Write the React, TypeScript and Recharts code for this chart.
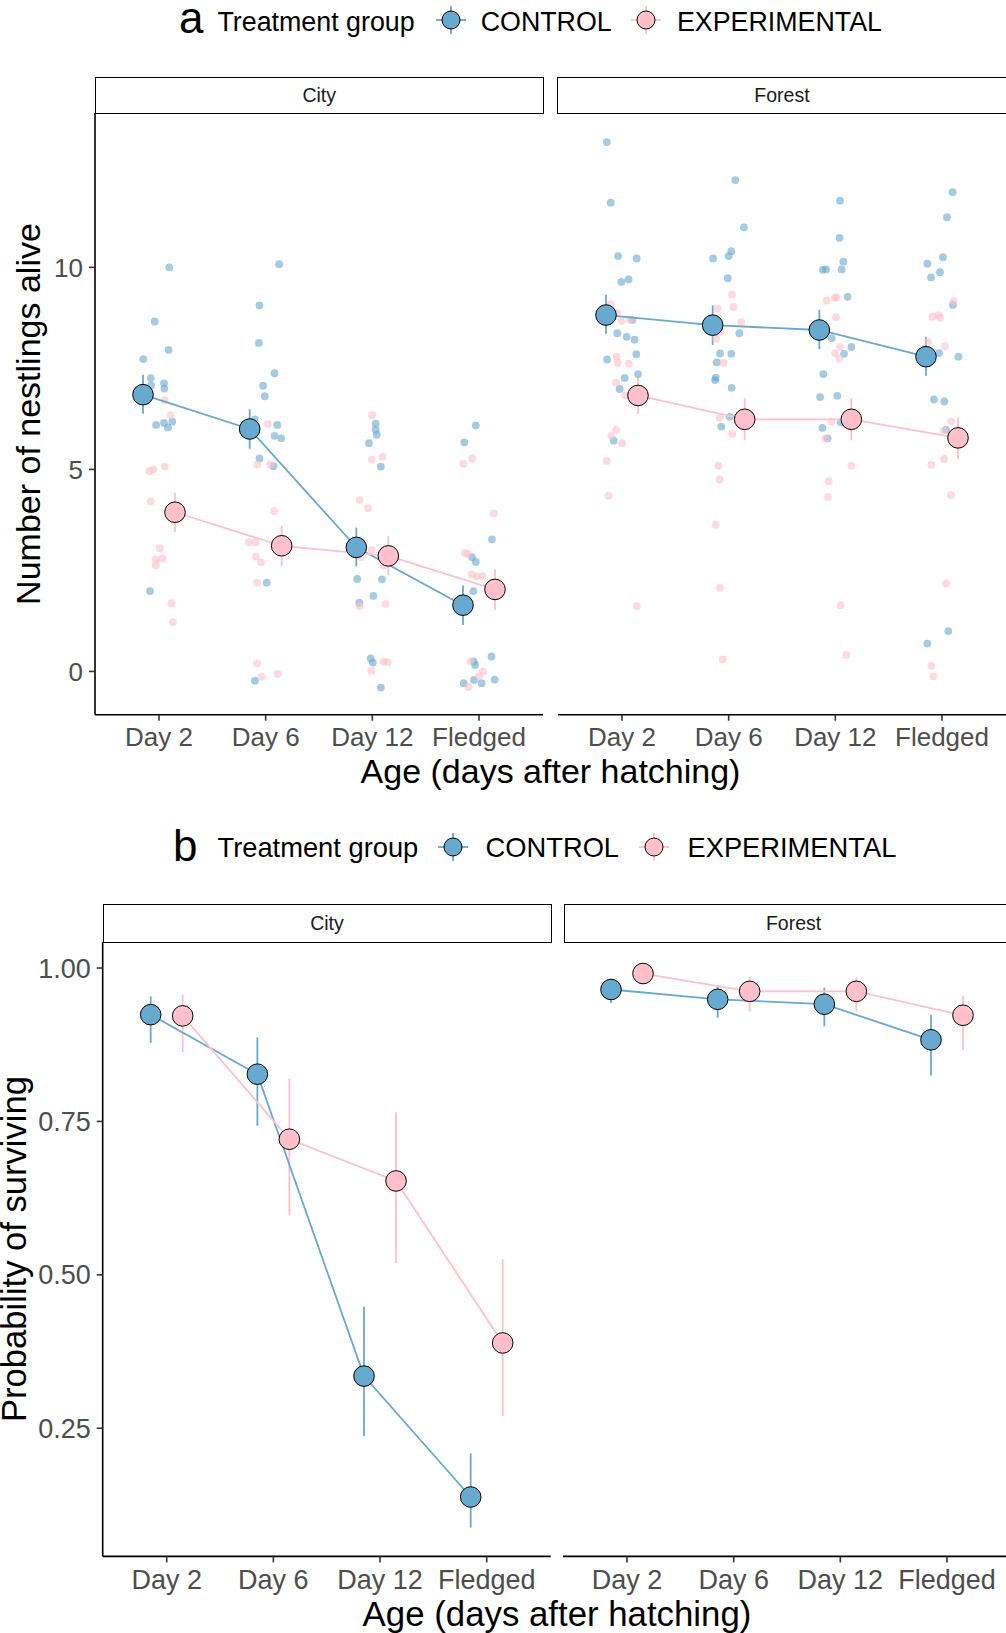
import React from 'react';
import { ScatterChart, Scatter, XAxis, YAxis, ErrorBar } from 'recharts';

const FONT = '"Liberation Sans", Arial, Helvetica, sans-serif';

// ---------- categories / groups ----------
const AGES = ['Day 2', 'Day 6', 'Day 12', 'Fledged'];
const AGE_POS = [1, 2, 3, 4];
const GROUPS = ['CONTROL', 'EXPERIMENTAL'];
const HABITATS = ['City', 'Forest'];
const BLUE = '#67a9cf';
const PINK = '#ffc0cb';

// ---------- panel a: number of nestlings alive (mean, lower, upper) ----------
const A_CITY_CONTROL_MEAN = [6.85, 6.0, 3.07, 1.64];
const A_CITY_CONTROL_LOW = [6.38, 5.51, 2.6, 1.15];
const A_CITY_CONTROL_HIGH = [7.34, 6.49, 3.56, 2.13];
const A_CITY_EXP_MEAN = [3.94, 3.11, 2.86, 2.03];
const A_CITY_EXP_LOW = [3.45, 2.6, 2.38, 1.52];
const A_CITY_EXP_HIGH = [4.43, 3.6, 3.35, 2.52];
const A_FOREST_CONTROL_MEAN = [8.82, 8.57, 8.45, 7.79];
const A_FOREST_CONTROL_LOW = [8.36, 8.08, 7.97, 7.32];
const A_FOREST_CONTROL_HIGH = [9.32, 9.06, 8.95, 8.28];
const A_FOREST_EXP_MEAN = [6.83, 6.24, 6.24, 5.78];
const A_FOREST_EXP_LOW = [6.37, 5.72, 5.72, 5.25];
const A_FOREST_EXP_HIGH = [7.3, 6.76, 6.76, 6.29];
const A_Y_TICKS = [0, 5, 10];

// raw (jittered) nest counts: [jittered age position, jittered count]
const A_CITY_CONTROL_RAW = [
  [0.853, 7.73], [0.923, 7.26], [0.926, 7.08], [1.047, 7.13], [1.05, 7.0], [0.96, 8.66], [1.097, 10.0],
  [1.09, 7.96], [0.973, 6.1], [1.047, 6.15], [1.084, 6.04], [1.124, 6.18], [0.916, 1.99],
  [1.942, 9.06], [1.936, 8.13], [2.126, 10.08], [2.083, 7.38], [1.976, 7.07], [1.992, 6.81], [1.899, 6.24],
  [2.109, 6.1], [2.083, 5.83], [2.146, 5.77], [1.942, 5.27], [2.073, 5.08], [2.009, 2.2], [1.899, -0.23],
  [3.031, 6.13], [3.031, 5.98], [3.041, 5.86], [2.968, 5.65], [3.08, 5.07], [2.858, 2.29], [3.09, 2.28],
  [3.01, 1.87], [2.878, 1.7], [2.985, 0.32], [3.005, 0.22], [3.08, -0.4],
  [3.97, 6.09], [3.863, 5.67], [4.121, 3.27], [3.934, 2.83], [3.97, 2.71], [3.947, 1.99], [4.117, 0.37],
  [3.95, 0.25], [3.963, 0.16], [3.857, -0.29], [3.953, -0.21], [4.024, -0.29], [4.147, -0.2],
];
const A_CITY_EXP_RAW = [
  [1.053, 6.71], [1.11, 6.34], [0.91, 4.96], [0.947, 5.0], [1.053, 5.07], [0.923, 4.21], [1.007, 3.05],
  [0.967, 2.77], [1.033, 2.8], [0.97, 2.62], [1.117, 1.69], [1.13, 1.22],
  [2.019, 6.13], [1.922, 5.12], [2.042, 5.12], [2.079, 3.97], [1.842, 3.2], [1.905, 3.2], [1.909, 2.84],
  [1.956, 2.7], [1.919, 2.2], [1.919, 0.2], [1.963, -0.13], [2.113, -0.06],
  [2.998, 6.34], [2.995, 5.24], [3.095, 5.31], [2.881, 4.24], [2.961, 4.04], [2.995, 3.01], [2.888, 2.83],
  [3.108, 2.62], [3.125, 1.67], [2.881, 1.62], [3.105, 0.25], [3.145, 0.23], [2.991, 0.02],
  [3.853, 5.14], [3.937, 5.27], [4.14, 3.91], [3.867, 2.93], [3.894, 2.91], [3.934, 2.4], [3.983, 2.36],
  [4.034, 2.36], [3.92, 0.25], [4.037, 0.0], [4.0, -0.12], [3.9, -0.38],
];
const A_FOREST_CONTROL_RAW = [
  [0.857, 13.1], [0.894, 11.6], [0.963, 10.28], [1.137, 10.22], [0.994, 9.64], [1.062, 9.7], [1.097, 8.7],
  [0.956, 8.37], [1.044, 8.28], [1.118, 8.21], [1.134, 7.85], [0.86, 7.72], [1.15, 7.36], [1.025, 7.26],
  [0.978, 6.99], [0.922, 5.71],
  [2.062, 12.16], [2.143, 10.99], [1.854, 10.22], [2.0, 10.28], [2.025, 10.4], [1.991, 9.73], [2.1, 8.37],
  [1.919, 7.87], [2.025, 7.86], [1.888, 7.65], [1.879, 7.27], [1.872, 7.21], [2.028, 7.02], [2.009, 6.3],
  [1.931, 6.06],
  [3.044, 11.65], [3.04, 10.73], [3.075, 10.14], [2.882, 9.94], [2.913, 9.95], [3.059, 9.95], [3.115, 9.27],
  [2.966, 8.25], [3.15, 8.03], [3.081, 7.86], [2.888, 7.36], [2.857, 6.79], [3.019, 6.82], [2.879, 6.03],
  [2.928, 5.77], [3.05, 6.17],
  [4.1, 11.86], [4.047, 11.24], [3.863, 10.09], [4.009, 10.25], [3.897, 9.75], [3.981, 9.88], [4.103, 9.07],
  [3.972, 7.88], [4.153, 7.79], [3.925, 6.73], [4.022, 6.68], [4.037, 5.98], [3.863, 0.69], [4.059, 1.0],
];
const A_FOREST_EXP_RAW = [
  [0.894, 9.09], [0.953, 8.87], [0.994, 8.67], [1.072, 8.7], [0.95, 7.79], [0.96, 7.64], [1.065, 7.62],
  [0.944, 7.15], [1.031, 6.83], [0.947, 5.98], [0.9, 5.83], [1.0, 5.65], [0.857, 5.21], [0.875, 4.35],
  [1.14, 1.62],
  [2.031, 9.33], [2.044, 9.02], [1.897, 8.98], [2.118, 8.65], [1.922, 8.4], [1.882, 8.23], [1.953, 7.64],
  [1.916, 6.27], [2.034, 5.88], [1.903, 5.09], [1.916, 4.75], [1.879, 3.63], [1.919, 2.07], [1.944, 0.3],
  [2.919, 9.18], [2.997, 9.24], [3.009, 9.26], [3.006, 8.77], [3.044, 8.03], [2.997, 7.88], [3.037, 7.75],
  [2.963, 6.19], [2.907, 5.76], [3.15, 5.09], [2.938, 4.71], [2.931, 4.32], [3.05, 1.64], [3.103, 0.41],
  [4.109, 9.17], [3.91, 8.78], [3.969, 8.82], [3.984, 8.75], [3.869, 8.16], [4.028, 8.05], [4.087, 6.19],
  [4.016, 5.96], [3.9, 5.11], [4.019, 5.26], [4.084, 4.36], [4.037, 2.18], [3.9, 0.14], [3.919, -0.12],
];

// ---------- panel b: probability of surviving (mean, lower, upper) ----------
const B_CITY_CONTROL_MEAN = [0.924, 0.827, 0.335, 0.138];
const B_CITY_CONTROL_LOW = [0.878, 0.743, 0.237, 0.088];
const B_CITY_CONTROL_HIGH = [0.954, 0.887, 0.448, 0.209];
const B_CITY_EXP_MEAN = [0.922, 0.721, 0.653, 0.389];
const B_CITY_EXP_LOW = [0.863, 0.597, 0.519, 0.27];
const B_CITY_EXP_HIGH = [0.957, 0.82, 0.765, 0.525];
const B_FOREST_CONTROL_MEAN = [0.965, 0.949, 0.941, 0.883];
const B_FOREST_CONTROL_LOW = [0.943, 0.919, 0.905, 0.825];
const B_FOREST_CONTROL_HIGH = [0.982, 0.972, 0.968, 0.924];
const B_FOREST_EXP_MEAN = [0.991, 0.962, 0.962, 0.923];
const B_FOREST_EXP_LOW = [0.978, 0.929, 0.929, 0.867];
const B_FOREST_EXP_HIGH = [0.998, 0.985, 0.985, 0.955];
const B_Y_TICKS = [0.25, 0.5, 0.75, 1.0];

const DODGE = 0.15;

type MeanPt = { x: number; y: number; err: [number, number] };

function buildMeans(mean: number[], low: number[], high: number[], offset: number): MeanPt[] {
  return AGE_POS.map((p, i) => ({ x: p + offset, y: mean[i], err: [mean[i] - low[i], high[i] - mean[i]] }));
}
function buildRaw(raw: number[][]) {
  return raw.map(([x, y]) => ({ x, y }));
}

type Series = { color: string; means: MeanPt[]; raw?: { x: number; y: number }[] };

type PanelProps = {
  left: number;
  top: number;
  yAxisW: number;
  plotW: number;
  plotH: number;
  yDomain: [number, number];
  yTicks: number[];
  yFmt: (v: number) => string;
  showY: boolean;
  series: Series[];
  fontSize: number;
};

const NoShape = () => <g />;

function Panel(p: PanelProps) {
  const tickStyle = { fontSize: p.fontSize, fill: '#4d4d4d', fontFamily: FONT };
  return (
    <div style={{ position: 'absolute', left: p.left, top: p.top }}>
      <ScatterChart
        width={p.yAxisW + p.plotW}
        height={p.plotH + 50}
        margin={{ top: 0, right: 0, bottom: 0, left: 0 }}
      >
        <XAxis
          type="number"
          dataKey="x"
          domain={[0.4, 4.6]}
          allowDataOverflow
          ticks={AGE_POS}
          interval={0}
          tickFormatter={(v: number) => AGES[Math.round(v) - 1]}
          height={50}
          tick={tickStyle}
          tickSize={6}
          tickMargin={7}
          axisLine={{ stroke: '#000', strokeWidth: 1.6 }}
          tickLine={{ stroke: '#333', strokeWidth: 1.6 }}
        />
        <YAxis
          type="number"
          dataKey="y"
          domain={p.yDomain}
          allowDataOverflow
          ticks={p.yTicks}
          interval={0}
          tickFormatter={p.yFmt}
          width={p.showY ? p.yAxisW : 0}
          hide={!p.showY}
          tick={tickStyle}
          tickSize={6}
          tickMargin={6}
          axisLine={{ stroke: '#000', strokeWidth: 1.6 }}
          tickLine={{ stroke: '#333', strokeWidth: 1.6 }}
        />
        {p.series.map((s, i) =>
          s.raw ? (
            <Scatter
              key={'raw' + i}
              data={s.raw}
              fill={s.color}
              isAnimationActive={false}
              shape={(q: any) => <circle cx={q.cx} cy={q.cy} r={3.9} fill={s.color} fillOpacity={0.6} />}
            />
          ) : null
        )}
        {p.series.map((s, i) => (
          <Scatter
            key={'line' + i}
            data={s.means}
            fill={s.color}
            line={{ stroke: s.color, strokeWidth: 1.8 }}
            lineType="joint"
            isAnimationActive={false}
            shape={NoShape}
          />
        ))}
        {p.series.map((s, i) => (
          <Scatter
            key={'mean' + i}
            data={s.means}
            fill={s.color}
            isAnimationActive={false}
            shape={(q: any) => <circle cx={q.cx} cy={q.cy} r={10.3} fill={s.color} stroke="#000" strokeWidth={1} />}
          >
            <ErrorBar dataKey="err" direction="y" width={0} stroke={s.color} strokeWidth={1.8} />
          </Scatter>
        ))}
      </ScatterChart>
    </div>
  );
}

function Strip({ left, top, width, height, label }: { left: number; top: number; width: number; height: number; label: string }) {
  return (
    <div
      style={{
        position: 'absolute',
        left,
        top,
        width,
        height,
        boxSizing: 'border-box',
        border: '1.7px solid #000',
        background: '#fff',
        display: 'flex',
        alignItems: 'center',
        justifyContent: 'center',
        fontFamily: FONT,
        fontSize: 19.5,
        color: '#1a1a1a',
      }}
    >
      {label}
    </div>
  );
}

// line box of height L keeps the baseline at 0.3465em below the box centre, so a small L is safe
function Txt({ left, cy, size, children, color = '#000' }: { left: number; cy: number; size: number; children: React.ReactNode; color?: string }) {
  const L = Math.round(size * 0.8);
  return (
    <div
      style={{
        position: 'absolute',
        left,
        top: cy - L / 2,
        fontSize: size,
        lineHeight: `${L}px`,
        fontFamily: FONT,
        whiteSpace: 'nowrap',
        color,
      }}
    >
      {children}
    </div>
  );
}

function CenterTxt({ cx, cy, size, rotate, children }: { cx: number; cy: number; size: number; rotate?: boolean; children: React.ReactNode }) {
  const L = Math.round(size * 0.75);
  return (
    <div
      style={{
        position: 'absolute',
        left: cx,
        top: cy,
        fontSize: size,
        lineHeight: `${L}px`,
        fontFamily: FONT,
        whiteSpace: 'nowrap',
        color: '#000',
        transform: `translate(-50%, -50%)${rotate ? ' rotate(-90deg)' : ''}`,
      }}
    >
      {children}
    </div>
  );
}

function Key({ cx, cy, color }: { cx: number; cy: number; color: string }) {
  return (
    <svg style={{ position: 'absolute', left: cx - 16, top: cy - 15 }} width={32} height={30}>
      <line x1={1} y1={15} x2={31} y2={15} stroke={color} strokeWidth={1.8} />
      <line x1={16} y1={1} x2={16} y2={29} stroke={color} strokeWidth={1.8} />
      <circle cx={16} cy={15} r={9} fill={color} stroke="#000" strokeWidth={1} />
    </svg>
  );
}

function Legend({ letter, letterLeft, letterBaseline, cy, keyCy, size, xs }: {
  letter: string; letterLeft: number; letterBaseline: number; cy: number; keyCy: number; size: number; xs: number[];
}) {
  const L = 30;
  const letterTop = letterBaseline - L / 2 - 0.3465 * 44;
  return (
    <>
      <div style={{ position: 'absolute', left: letterLeft, top: letterTop, fontSize: 44, lineHeight: `${L}px`, fontFamily: FONT, color: '#000' }}>
        {letter}
      </div>
      <Txt left={xs[0]} cy={cy} size={size}>Treatment group</Txt>
      <Key cx={xs[1]} cy={keyCy} color={BLUE} />
      <Txt left={xs[2]} cy={cy} size={size}>{GROUPS[0]}</Txt>
      <Key cx={xs[3]} cy={keyCy} color={PINK} />
      <Txt left={xs[4]} cy={cy} size={size}>{GROUPS[1]}</Txt>
    </>
  );
}

export default function App() {
  const fmtA = (v: number) => String(v);
  const fmtB = (v: number) => v.toFixed(2);

  const aCity: Series[] = [
    { color: BLUE, raw: buildRaw(A_CITY_CONTROL_RAW), means: buildMeans(A_CITY_CONTROL_MEAN, A_CITY_CONTROL_LOW, A_CITY_CONTROL_HIGH, -DODGE) },
    { color: PINK, raw: buildRaw(A_CITY_EXP_RAW), means: buildMeans(A_CITY_EXP_MEAN, A_CITY_EXP_LOW, A_CITY_EXP_HIGH, DODGE) },
  ];
  const aForest: Series[] = [
    { color: BLUE, raw: buildRaw(A_FOREST_CONTROL_RAW), means: buildMeans(A_FOREST_CONTROL_MEAN, A_FOREST_CONTROL_LOW, A_FOREST_CONTROL_HIGH, -DODGE) },
    { color: PINK, raw: buildRaw(A_FOREST_EXP_RAW), means: buildMeans(A_FOREST_EXP_MEAN, A_FOREST_EXP_LOW, A_FOREST_EXP_HIGH, DODGE) },
  ];
  const bCity: Series[] = [
    { color: BLUE, means: buildMeans(B_CITY_CONTROL_MEAN, B_CITY_CONTROL_LOW, B_CITY_CONTROL_HIGH, -DODGE) },
    { color: PINK, means: buildMeans(B_CITY_EXP_MEAN, B_CITY_EXP_LOW, B_CITY_EXP_HIGH, DODGE) },
  ];
  const bForest: Series[] = [
    { color: BLUE, means: buildMeans(B_FOREST_CONTROL_MEAN, B_FOREST_CONTROL_LOW, B_FOREST_CONTROL_HIGH, -DODGE) },
    { color: PINK, means: buildMeans(B_FOREST_EXP_MEAN, B_FOREST_EXP_LOW, B_FOREST_EXP_HIGH, DODGE) },
  ];

  const aDomain: [number, number] = [-1.07, 13.82];
  const bDomain: [number, number] = [0.0412, 1.0424];

  return (
    <div style={{ position: 'absolute', left: 0, top: 0, width: 1006, height: 1633, overflow: 'hidden', background: '#fff' }}>
      {/* ---------- panel a ---------- */}
      <Legend letter="a" letterLeft={179} letterBaseline={33.3} cy={22.8} keyCy={19.5} size={26.8} xs={[217.5, 450.6, 480.7, 646, 677]} />
      <Strip left={94.5} top={77} width={449.5} height={37} label={HABITATS[0]} />
      <Strip left={557.2} top={77} width={449.6} height={37} label={HABITATS[1]} />
      <Panel left={0} top={113.3} yAxisW={95} plotW={448} plotH={601.7} yDomain={aDomain} yTicks={A_Y_TICKS} yFmt={fmtA} showY series={aCity} fontSize={26} />
      <Panel left={558} top={113.3} yAxisW={0} plotW={448} plotH={601.7} yDomain={aDomain} yTicks={A_Y_TICKS} yFmt={fmtA} showY={false} series={aForest} fontSize={26} />
      <CenterTxt cx={550.5} cy={771} size={34}>Age (days after hatching)</CenterTxt>
      <CenterTxt cx={28} cy={414} size={34} rotate>Number of nestlings alive</CenterTxt>

      {/* ---------- panel b ---------- */}
      <Legend letter="b" letterLeft={173} letterBaseline={861} cy={847.8} keyCy={846.7} size={27.3} xs={[217.5, 453, 485.6, 654, 687.5]} />
      <Strip left={102.5} top={904.2} width={449} height={38.8} label={HABITATS[0]} />
      <Strip left={563.6} top={904.2} width={460} height={38.8} label={HABITATS[1]} />
      <Panel left={0} top={942.3} yAxisW={102.7} plotW={448} plotH={614.4} yDomain={bDomain} yTicks={B_Y_TICKS} yFmt={fmtB} showY series={bCity} fontSize={27} />
      <Panel left={563} top={942.3} yAxisW={0} plotW={448} plotH={614.4} yDomain={bDomain} yTicks={B_Y_TICKS} yFmt={fmtB} showY={false} series={bForest} fontSize={27} />
      <CenterTxt cx={557} cy={1614} size={34.8}>Age (days after hatching)</CenterTxt>
      <CenterTxt cx={14} cy={1249} size={34.6} rotate>Probability of surviving</CenterTxt>
    </div>
  );
}
